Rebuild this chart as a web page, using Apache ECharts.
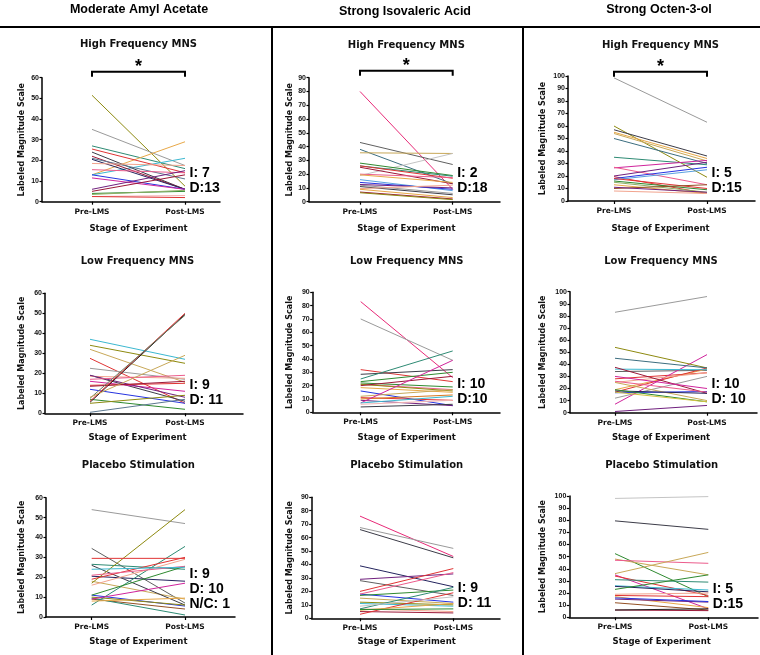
<!DOCTYPE html>
<html>
<head>
<meta charset="utf-8">
<script src="https://cdn.jsdelivr.net/npm/echarts@6/dist/echarts.min.js"></script>
<style>html,body{margin:0;padding:0;background:#fff;}#chart{width:760px;height:655px;}</style>
</head>
<body>
<div id="chart"></div>
<script>
// ---------- DATA ----------
const COLUMN_TITLES = ['Moderate Amyl Acetate', 'Strong Isovaleric Acid', 'Strong Octen-3-ol'];
const PANEL_TITLES = ['High Frequency MNS', 'Low Frequency MNS', 'Placebo Stimulation'];
const STAGES = ['Pre-LMS', 'Post-LMS'];
const X_NAME = 'Stage of Experiment';
const Y_NAME = 'Labeled Magnitude Scale';
const Y_MAX = [60, 90, 100]; // per column

const amylHighPre  = [51.5, 35, 27, 13, 13, 25.5, 24, 22, 21, 20.5, 18.5, 15.5, 13, 11.5, 6, 5, 4, 3.5, 2.5, 2.5];
const amylHighPost = [7.5, 17.5, 16, 29, 21, 14, 6, 6, 11, 6, 17.5, 14, 6, 6, 15, 13, 5, 5.5, 3, 2];
const isoHighPre   = [80, 43, 38, 35.5, 19, 28, 26, 26, 25, 20, 19.5, 16, 14, 12, 12.5, 11, 9.5, 9, 7, 6.5];
const isoHighPost  = [9, 27, 13, 35, 35, 19, 18.5, 17, 13, 17.5, 14, 8, 9, 6, 10, 5, 12, 3, 2, 1.5];
const octHighPre   = [98.5, 60, 57, 55, 54, 50, 35, 26.5, 27, 19.5, 18, 20, 17, 16, 15, 18, 13, 10, 11, 8];
const octHighPost  = [63, 19, 36, 34, 32, 30, 29, 32.5, 13, 6, 27, 31, 25, 9, 7, 10, 6, 13, 7, 6];

const amylLowPre   = [37, 34, 32, 27.5, 22.5, 19, 18.5, 16, 12, 7, 19, 17, 14, 13.5, 5.5, 6, 7.5, 8, 5, 0.5];
const amylLowPost  = [27, 25, 15.5, 5, 17, 6, 17.5, 11, 5, 2, 8, 19, 15, 16, 49.5, 50, 49, 29, 9, 7];
const isoLowPre    = [83, 70, 32, 22, 21, 21, 18.5, 16, 11, 9, 28.5, 25, 23, 20, 12, 10, 7, 7, 6, 4];
const isoLowPost   = [26, 39, 23, 19, 17, 16, 15, 5, 9, 5, 32, 46, 30, 27, 17, 13, 39, 12, 9, 6];
const octLowPre    = [83, 34, 28, 19, 17, 12, 7, 1, 25, 16.5, 54, 45, 36, 37.5, 30, 26, 25, 18, 19, 17];
const octLowPost   = [96, 35, 33, 36, 37, 30, 48, 6, 33, 17.5, 37, 37, 35.5, 16, 20, 17, 10, 16, 9, 9];

const amylPlaceboPre  = [54, 34.5, 26.5, 20.5, 18, 26, 11, 9, 10, 9.5, 17, 6, 11, 19, 16, 21, 9, 8, 24, 29.5];
const amylPlaceboPost = [47, 7, 24, 18, 9, 6, 5.5, 4, 6, 1, 54, 35.5, 25.5, 30, 29, 25.5, 17, 9.5, 25, 29.5];
const isoPlaceboPre   = [76, 67.5, 66, 39, 28, 18, 15, 11, 12, 5, 7, 29, 20, 18, 17, 7, 3, 6, 6.5, 9];
const isoPlaceboPost  = [46, 52, 45, 23.5, 17, 12, 11, 9, 10, 4, 5, 33, 37, 34, 21, 23, 19, 11, 7, 16];
const octPlaceboPre   = [79.5, 52.5, 48, 47, 35, 34, 31, 26, 25.5, 18, 17, 15, 16, 12, 6, 98, 36, 23, 19, 6];
const octPlaceboPost  = [72.5, 17, 35, 44.5, 7, 18, 29, 22.5, 21, 17, 8, 12.5, 13, 6, 5.5, 99.5, 53.5, 35, 20, 7];

const amylHighNotes = ['I: 7', 'D:13'];
const isoHighNotes = ['I: 2', 'D:18'];
const octHighNotes = ['I: 5', 'D:15'];
const amylLowNotes = ['I: 9', 'D: 11'];
const isoLowNotes = ['I: 10', 'D:10'];
const octLowNotes = ['I: 10', 'D: 10'];
const amylPlaceboNotes = ['I: 9', 'D: 10', 'N/C: 1'];
const isoPlaceboNotes = ['I: 9', 'D: 11'];
const octPlaceboNotes = ['I: 5', 'D:15'];
const SIG_MARK = '*';

// ---------- STYLES ----------
const C = {
  olive:'#8e8a10', grey:'#9a9a9a', teal:'#2e8b74', orange:'#e8a848', cyan:'#3cb8d0', red:'#e03434',
  dark:'#3c3c48', darkred:'#9c1838', greyblue:'#5c7890', navy:'#24245e', salmon:'#f2a48e', pink:'#ec5c8c',
  blue:'#2634e0', magenta:'#d0249c', purple:'#70207e', green:'#2f8a30', lightgreen:'#8eb066',
  lightpink:'#f2b4b4', black:'#1e1e1e', tan:'#c8a858', brown:'#945024', yellow:'#d4c440',
  lightgrey:'#c4c4c4', darkgrey:'#606060', tealdark:'#3c6e80', lightblue:'#58a0e0', darkorange:'#d87820',
  greygreen:'#6a7a60', hotpink:'#e82a78'
};
const COLORS = [
  [C.olive,C.grey,C.teal,C.orange,C.cyan,C.red,C.dark,C.darkred,C.greyblue,C.navy,C.salmon,C.pink,C.blue,C.magenta,C.purple,C.darkred,C.green,C.lightgreen,C.lightpink,C.red],
  [C.hotpink,C.darkgrey,C.tealdark,C.tan,C.lightgrey,C.green,C.teal,C.red,C.darkred,C.pink,C.orange,C.lightblue,C.blue,C.grey,C.purple,C.dark,C.salmon,C.orange,C.darkred,C.olive],
  [C.grey,C.olive,C.dark,C.orange,C.tan,C.tealdark,C.teal,C.magenta,C.pink,C.red,C.blue,C.purple,C.lightblue,C.green,C.lightgreen,C.red,C.orange,C.brown,C.purple,C.salmon],
  [C.cyan,C.olive,C.tan,C.red,C.grey,C.dark,C.salmon,C.magenta,C.blue,C.green,C.purple,C.pink,C.red,C.darkred,C.black,C.red,C.greygreen,C.tan,C.olive,C.greyblue],
  [C.hotpink,C.grey,C.red,C.green,C.pink,C.olive,C.orange,C.blue,C.red,C.purple,C.dark,C.teal,C.green,C.darkred,C.tan,C.darkorange,C.magenta,C.cyan,C.lightpink,C.dark],
  [C.grey,C.darkgrey,C.red,C.orange,C.red,C.grey,C.magenta,C.purple,C.salmon,C.blue,C.olive,C.tealdark,C.cyan,C.darkred,C.magenta,C.pink,C.tan,C.navy,C.green,C.yellow],
  [C.grey,C.darkgrey,C.teal,C.navy,C.tan,C.dark,C.blue,C.brown,C.olive,C.teal,C.olive,C.teal,C.green,C.red,C.salmon,C.pink,C.magenta,C.orange,C.cyan,C.red],
  [C.hotpink,C.grey,C.dark,C.navy,C.darkgrey,C.blue,C.tan,C.cyan,C.olive,C.darkred,C.salmon,C.purple,C.red,C.pink,C.green,C.teal,C.red,C.orange,C.green,C.lightgrey],
  [C.dark,C.green,C.tan,C.pink,C.magenta,C.red,C.teal,C.cyan,C.navy,C.red,C.orange,C.purple,C.blue,C.brown,C.darkred,C.lightgrey,C.tan,C.green,C.salmon,C.black]
];

// panels in reading order (row-major)
const PANELS = [
  {pre: amylHighPre, post: amylHighPost, notes: amylHighNotes, sig: true},
  {pre: isoHighPre, post: isoHighPost, notes: isoHighNotes, sig: true},
  {pre: octHighPre, post: octHighPost, notes: octHighNotes, sig: true},
  {pre: amylLowPre, post: amylLowPost, notes: amylLowNotes},
  {pre: isoLowPre, post: isoLowPost, notes: isoLowNotes},
  {pre: octLowPre, post: octLowPost, notes: octLowNotes},
  {pre: amylPlaceboPre, post: amylPlaceboPost, notes: amylPlaceboNotes},
  {pre: isoPlaceboPre, post: isoPlaceboPost, notes: isoPlaceboNotes},
  {pre: octPlaceboPre, post: octPlaceboPost, notes: octPlaceboNotes}
];

// ---------- LAYOUT ----------
const LAYOUT = [
  {left:42,    top:77.7,  bottom:201.7, xEnd:220, pre:92,    post:185,   gap:16.5, title:44,  stage:229, note:173,   bracket:71.7},
  {left:309,   top:77.7,  bottom:201.7, xEnd:500, pre:360,   post:452.7, gap:15,   title:45,  stage:229, note:173,   bracket:70.7},
  {left:568,   top:76,    bottom:201,   xEnd:755, pre:614,   post:707,   gap:21,   title:45,  stage:229, note:172.7, bracket:71.7},
  {left:45,    top:293.3, bottom:413.3, xEnd:243, pre:90,    post:185,   gap:19.5, title:261, stage:438, note:385},
  {left:312.7, top:292.3, bottom:412.3, xEnd:500, pre:360.7, post:452.7, gap:18.7, title:261, stage:438, note:384.3},
  {left:570,   top:291.7, bottom:412.7, xEnd:757, pre:615,   post:707,   gap:23,   title:261, stage:438, note:384.3},
  {left:46,    top:497.7, bottom:617,   xEnd:235, pre:91.7,  post:185,   gap:20.5, title:465.5, stage:642, note:574.3},
  {left:311.7, top:497.3, bottom:618.3, xEnd:500, pre:360,   post:453.3, gap:17.7, title:465, stage:642, note:588.3},
  {left:569.3, top:496,   bottom:617.3, xEnd:758, pre:615,   post:708.3, gap:22.3, title:465, stage:642, note:589}
];
const COL_TITLE_POS = [{x:139, y:10}, {x:405, y:11.5}, {x:659, y:9.5}];
const WIDE = "'DejaVu Sans', sans-serif";
const NOTE_FONT = "'Liberation Sans Narrow', 'Liberation Sans', sans-serif";

const grids = [], xAxes = [], yAxes = [], series = [], graphics = [];

PANELS.forEach((p, k) => {
  const L = LAYOUT[k];
  const col = k % 3;
  const span = L.post - L.pre;
  grids.push({left: L.left, top: L.top, width: L.xEnd - L.left, height: L.bottom - L.top, containLabel: false});
  xAxes.push({
    type: 'value', gridIndex: k,
    min: 1 - (L.pre - L.left) / span,
    max: 2 + (L.xEnd - L.post) / span,
    splitLine: {show: false},
    axisLine: {show: true, onZero: false, lineStyle: {color: '#000', width: 1.5}},
    axisTick: {show: true, customValues: [1, 2], length: 3, lineStyle: {color: '#000', width: 1.2}},
    axisLabel: {customValues: [1, 2], formatter: v => STAGES[Math.round(v) - 1] || '', margin: 6,
      fontFamily: WIDE, fontWeight: 'bold', fontSize: 7.5, color: '#111'}
  });
  yAxes.push({
    type: 'value', gridIndex: k, min: 0, max: Y_MAX[col], interval: 10,
    splitLine: {show: false},
    axisLine: {show: true, lineStyle: {color: '#000', width: 1.5}},
    axisTick: {show: true, length: 2.5, lineStyle: {color: '#000', width: 1.2}},
    axisLabel: {margin: 3, fontFamily: "'Liberation Sans', sans-serif", fontWeight: 'bold', fontSize: 7, color: '#111'},
    name: Y_NAME, nameLocation: 'middle', nameRotate: 90, nameGap: L.gap,
    nameTextStyle: {fontFamily: WIDE, fontWeight: 'bold', fontSize: 8, color: '#111'}
  });
  p.pre.forEach((v, i) => {
    series.push({
      type: 'line', xAxisIndex: k, yAxisIndex: k, symbol: 'none', silent: true,
      data: [[1, v], [2, p.post[i]]],
      lineStyle: {width: 1, color: COLORS[k][i]}, z: 2
    });
  });
  const mid = (L.pre + L.post) / 2;
  graphics.push({type: 'text', style: {text: PANEL_TITLES[Math.floor(k / 3)], x: mid, y: L.title,
    textAlign: 'center', textVerticalAlign: 'middle', font: "bold 10px 'DejaVu Sans', sans-serif", fill: '#111'}});
  graphics.push({type: 'text', style: {text: X_NAME, x: mid, y: L.stage,
    textAlign: 'center', textVerticalAlign: 'middle', font: "bold 8.5px 'DejaVu Sans', sans-serif", fill: '#111'}});
  p.notes.forEach((t, j) => {
    graphics.push({type: 'text', style: {text: t, x: L.post + 4.5, y: L.note + j * 15,
      textAlign: 'left', textVerticalAlign: 'middle', font: "bold 14px " + NOTE_FONT, fill: '#000'}});
  });
  if (p.sig) {
    graphics.push({type: 'polyline', shape: {points: [[L.pre, L.bracket + 5], [L.pre, L.bracket], [L.post, L.bracket], [L.post, L.bracket + 5]]},
      style: {stroke: '#000', lineWidth: 2, fill: null}});
    graphics.push({type: 'text', style: {text: SIG_MARK, x: mid, y: L.bracket - 5,
      textAlign: 'center', textVerticalAlign: 'middle', font: "bold 18px 'Liberation Sans', sans-serif", fill: '#000'}});
  }
});

// column titles & dividers
COLUMN_TITLES.forEach((t, c) => {
  graphics.push({type: 'text', style: {text: t, x: COL_TITLE_POS[c].x, y: COL_TITLE_POS[c].y,
    textAlign: 'center', textVerticalAlign: 'middle', font: "bold 12.5px 'Liberation Sans', sans-serif", fill: '#000'}});
});
graphics.push({type: 'line', shape: {x1: 0, y1: 27, x2: 760, y2: 27}, style: {stroke: '#000', lineWidth: 2}});
graphics.push({type: 'line', shape: {x1: 272, y1: 27, x2: 272, y2: 655}, style: {stroke: '#000', lineWidth: 2}});
graphics.push({type: 'line', shape: {x1: 523, y1: 27, x2: 523, y2: 655}, style: {stroke: '#000', lineWidth: 2}});

const chart = echarts.init(document.getElementById('chart'), null, {renderer: 'canvas'});
chart.setOption({
  animation: false,
  backgroundColor: '#fff',
  grid: grids, xAxis: xAxes, yAxis: yAxes, series: series,
  graphic: graphics
});
</script>
</body>
</html>
